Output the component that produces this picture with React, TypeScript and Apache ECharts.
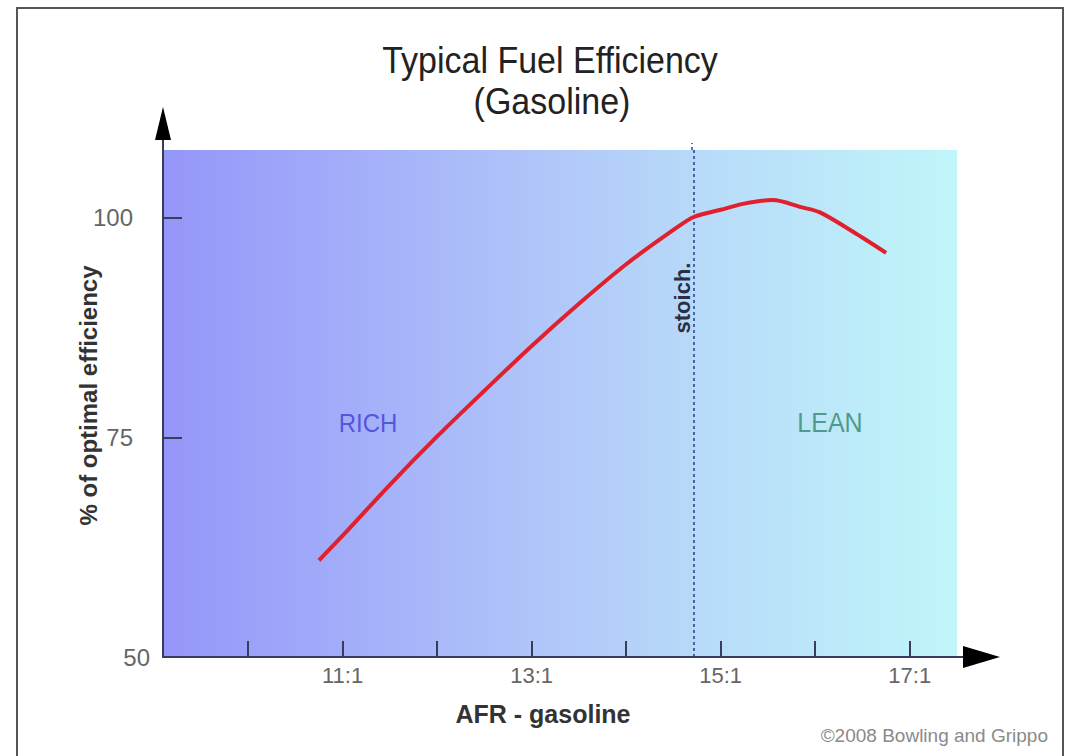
import React, { useEffect, useRef } from "react";
import * as echarts from "echarts";

const afr = [10.75, 11.0, 11.5, 12.0, 12.5, 13.0, 13.5, 14.0, 14.5, 14.72, 15.0, 15.25, 15.55, 15.85, 16.05, 16.4, 16.75];
const efficiency = [61.0, 63.8, 69.6, 75.1, 80.3, 85.4, 90.2, 94.7, 98.6, 100.1, 100.9, 101.6, 102.0, 101.2, 100.6, 98.4, 96.0];
const xTickValues = [10, 11, 12, 13, 14, 15, 16, 17];
const xLabelValues = [11, 13, 15, 17];
const yTickValues = [75, 100];
const yLabelValues = [50, 75, 100];
const stoichAfr = 14.72;

const FONT = "'Liberation Sans', Arial, sans-serif";
const AXIS_COLOR = "#383d5e";

export default function App() {
  const ref = useRef<HTMLDivElement>(null);

  useEffect(() => {
    if (!ref.current) return;
    const chart = echarts.init(ref.current, null, { renderer: "svg" });
    const seriesData = afr.map((x, i) => [x, efficiency[i]]);

    chart.setOption({
      animation: false,
      backgroundColor: "#ffffff",
      textStyle: { fontFamily: FONT },
      grid: {
        left: 163,
        top: 150,
        width: 794,
        height: 507,
        show: true,
        borderWidth: 0,
        backgroundColor: new echarts.graphic.LinearGradient(0, 0, 1, 0, [
          { offset: 0, color: "#9596f9" },
          { offset: 0.45, color: "#afc3f9" },
          { offset: 0.68, color: "#b8dbf9" },
          { offset: 1, color: "#c0f6fa" },
        ]),
      },
      xAxis: {
        type: "value",
        min: 9.1,
        max: 17.5,
        name: "AFR - gasoline",
        nameLocation: "middle",
        nameGap: 44,
        nameMoveOverlap: false,
        nameTextStyle: {
          fontFamily: FONT,
          fontSize: 25,
          fontWeight: "bold",
          color: "#333333",
          padding: [0, 34, 0, 0],
        },
        axisLine: { show: true, onZero: false, lineStyle: { color: AXIS_COLOR, width: 2 } },
        axisTick: {
          show: true,
          inside: true,
          length: 16,
          customValues: xTickValues,
          lineStyle: { color: AXIS_COLOR, width: 2 },
        },
        axisLabel: {
          show: true,
          customValues: xLabelValues,
          formatter: (v: number) => `${v}:1`,
          fontFamily: FONT,
          fontSize: 22,
          color: "#666666",
          margin: 7,
        },
        splitLine: { show: false },
      },
      yAxis: {
        type: "value",
        min: 50,
        max: 107.7,
        name: "% of optimal efficiency",
        nameLocation: "middle",
        nameRotate: 90,
        nameGap: 63,
        nameMoveOverlap: false,
        nameTextStyle: {
          fontFamily: FONT,
          fontSize: 24,
          fontWeight: "bold",
          color: "#333333",
          padding: [0, 0, 0, 16],
        },
        axisLine: { show: true, onZero: false, lineStyle: { color: AXIS_COLOR, width: 2 } },
        axisTick: {
          show: true,
          inside: true,
          length: 19,
          customValues: yTickValues,
          lineStyle: { color: AXIS_COLOR, width: 2 },
        },
        axisLabel: {
          show: true,
          customValues: yLabelValues,
          margin: 13,
          formatter: (v: number) => (v === 50 ? `{a|${v}}` : `{a|${v}}{s|}`),
          rich: {
            a: { fontFamily: FONT, fontSize: 24, color: "#666666" },
            s: { width: 17 },
          },
        },
        splitLine: { show: false },
      },
      series: [
        {
          type: "line",
          data: seriesData,
          smooth: 0.3,
          symbol: "none",
          lineStyle: { color: "#e0202c", width: 4 },
          z: 5,
          markLine: {
            silent: true,
            symbol: "none",
            label: { show: false },
            lineStyle: { color: "#2c3e80", width: 1.5, type: [3, 3] },
            data: [{ xAxis: stoichAfr }],
          },
        },
      ],
      graphic: [
        {
          type: "rect",
          shape: { x: 17, y: 8, width: 1046, height: 770 },
          style: { fill: "none", stroke: "#555555", lineWidth: 2 },
          silent: true,
          z: 1,
        },
        {
          type: "line",
          shape: { x1: 163, y1: 150, x2: 163, y2: 138 },
          style: { stroke: AXIS_COLOR, lineWidth: 2 },
          z: 10,
        },
        {
          type: "line",
          shape: { x1: 692, y1: 150, x2: 692, y2: 143 },
          style: { stroke: "#2c3e80", lineWidth: 1.5, lineDash: [3, 3] },
          z: 10,
        },
        {
          type: "polygon",
          shape: { points: [[163, 107], [155, 140], [171, 140]] },
          style: { fill: "#000000" },
          z: 10,
        },
        {
          type: "line",
          shape: { x1: 957, y1: 657, x2: 966, y2: 657 },
          style: { stroke: AXIS_COLOR, lineWidth: 2 },
          z: 10,
        },
        {
          type: "polygon",
          shape: { points: [[1000, 657], [963, 646], [963, 668]] },
          style: { fill: "#000000" },
          z: 10,
        },
        {
          type: "text",
          x: 550,
          y: 60,
          scaleY: 1.1,
          style: {
            text: "Typical Fuel Efficiency",
            fontFamily: FONT,
            fontSize: 34,
            fill: "#222222",
            align: "center",
            verticalAlign: "middle",
          },
          z: 10,
        },
        {
          type: "text",
          x: 552,
          y: 101,
          scaleY: 1.1,
          style: {
            text: "(Gasoline)",
            fontFamily: FONT,
            fontSize: 34,
            fill: "#222222",
            align: "center",
            verticalAlign: "middle",
          },
          z: 10,
        },
        {
          type: "text",
          x: 368,
          y: 423,
          scaleY: 1.1,
          style: {
            text: "RICH",
            fontFamily: FONT,
            fontSize: 24,
            fill: "#5555dd",
            align: "center",
            verticalAlign: "middle",
          },
          z: 10,
        },
        {
          type: "text",
          x: 830,
          y: 423,
          scaleY: 1.1,
          style: {
            text: "LEAN",
            fontFamily: FONT,
            fontSize: 25,
            fill: "#4f9a8a",
            align: "center",
            verticalAlign: "middle",
          },
          z: 10,
        },
        {
          type: "text",
          x: 682,
          y: 298,
          rotation: Math.PI / 2,
          style: {
            text: "stoich.",
            fontFamily: FONT,
            fontSize: 22,
            fontWeight: "bold",
            fill: "#2a2f45",
            align: "center",
            verticalAlign: "middle",
          },
          z: 10,
        },
        {
          type: "text",
          x: 1048,
          y: 735,
          style: {
            text: "©2008 Bowling and Grippo",
            fontFamily: FONT,
            fontSize: 19,
            fill: "#8a8a8a",
            align: "right",
            verticalAlign: "middle",
          },
          z: 10,
        },
      ],
    });

    return () => chart.dispose();
  }, []);

  return (
    <div
      ref={ref}
      style={{ position: "absolute", left: 0, top: 0, width: 1071, height: 756 }}
    />
  );
}
